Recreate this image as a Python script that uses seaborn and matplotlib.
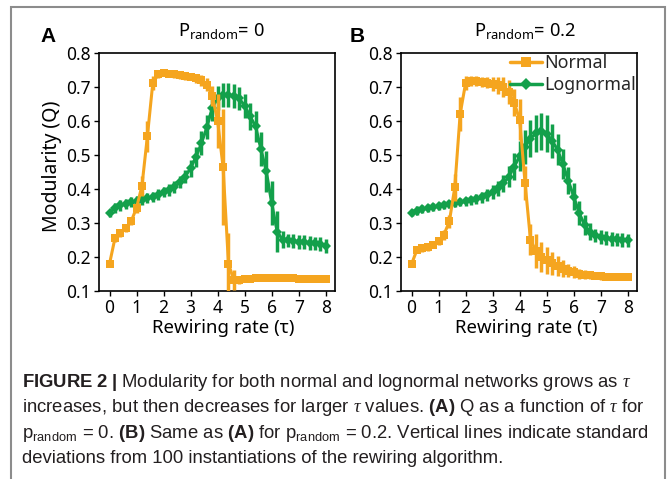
import numpy as np
import pandas as pd
import matplotlib
matplotlib.use("Agg")
import matplotlib.pyplot as plt
import seaborn as sns
from matplotlib.patches import Rectangle
from matplotlib.lines import Line2D
from matplotlib.ticker import FormatStrFormatter

# ---------------- data ----------------
tau = [0.0, 0.2, 0.4, 0.6, 0.8, 1.0, 1.2, 1.4, 1.6, 1.8,
       2.0, 2.2, 2.4, 2.6, 2.8, 3.0, 3.2, 3.4, 3.6, 3.8,
       4.0, 4.2, 4.4, 4.6, 4.8, 5.0, 5.2, 5.4, 5.6, 5.8,
       6.0, 6.2, 6.4, 6.6, 6.8, 7.0, 7.2, 7.4, 7.6, 7.8, 8.0]

# Panel A  (p_random = 0)
normal_a = [0.180, 0.255, 0.270, 0.285, 0.305, 0.345, 0.410, 0.555, 0.712, 0.738,
            0.742, 0.740, 0.738, 0.735, 0.732, 0.730, 0.726, 0.720, 0.708, 0.675,
            0.600, 0.465, 0.180, 0.132, 0.133, 0.135, 0.136, 0.137, 0.137, 0.138,
            0.138, 0.138, 0.137, 0.137, 0.137, 0.136, 0.136, 0.136, 0.136, 0.136, 0.136]
normal_a_sd = [0.005, 0.010, 0.010, 0.010, 0.012, 0.015, 0.030, 0.045, 0.020, 0.010,
               0.010, 0.010, 0.010, 0.010, 0.010, 0.010, 0.012, 0.015, 0.020, 0.030,
               0.080, 0.170, 0.090, 0.030, 0.012, 0.008, 0.008, 0.008, 0.008, 0.008,
               0.008, 0.008, 0.008, 0.008, 0.008, 0.008, 0.008, 0.008, 0.008, 0.008, 0.008]
lognormal_a = [0.329, 0.345, 0.352, 0.357, 0.361, 0.364, 0.368, 0.373, 0.378, 0.384,
               0.391, 0.398, 0.407, 0.420, 0.437, 0.462, 0.495, 0.535, 0.582, 0.640,
               0.668, 0.677, 0.677, 0.675, 0.667, 0.645, 0.615, 0.585, 0.518, 0.452,
               0.358, 0.275, 0.251, 0.249, 0.247, 0.245, 0.244, 0.242, 0.240, 0.238, 0.232]
lognormal_a_sd = [0.010, 0.015, 0.015, 0.015, 0.015, 0.015, 0.015, 0.015, 0.015, 0.015,
                  0.015, 0.018, 0.018, 0.018, 0.020, 0.025, 0.030, 0.035, 0.035, 0.040,
                  0.035, 0.035, 0.035, 0.035, 0.035, 0.035, 0.040, 0.045, 0.050, 0.060,
                  0.065, 0.060, 0.025, 0.020, 0.020, 0.020, 0.020, 0.020, 0.020, 0.020, 0.020]

# Panel B  (p_random = 0.2)
normal_b = [0.179, 0.221, 0.226, 0.229, 0.236, 0.246, 0.266, 0.305, 0.405, 0.622,
            0.712, 0.719, 0.718, 0.716, 0.714, 0.710, 0.706, 0.700, 0.686, 0.655,
            0.604, 0.418, 0.251, 0.218, 0.200, 0.190, 0.181, 0.174, 0.166, 0.160,
            0.155, 0.151, 0.148, 0.146, 0.144, 0.143, 0.142, 0.142, 0.141, 0.141, 0.141]
normal_b_sd = [0.008, 0.010, 0.010, 0.010, 0.010, 0.010, 0.015, 0.020, 0.040, 0.050,
               0.020, 0.015, 0.015, 0.015, 0.015, 0.020, 0.025, 0.030, 0.035, 0.040,
               0.060, 0.050, 0.045, 0.050, 0.045, 0.040, 0.035, 0.030, 0.025, 0.020,
               0.018, 0.015, 0.013, 0.010, 0.010, 0.010, 0.010, 0.010, 0.010, 0.010, 0.010]
lognormal_b = [0.331, 0.337, 0.341, 0.344, 0.347, 0.350, 0.353, 0.356, 0.359, 0.362,
               0.364, 0.367, 0.371, 0.376, 0.383, 0.392, 0.402, 0.417, 0.437, 0.466,
               0.497, 0.525, 0.549, 0.564, 0.570, 0.563, 0.543, 0.516, 0.474, 0.425,
               0.378, 0.330, 0.295, 0.274, 0.264, 0.259, 0.256, 0.253, 0.252, 0.251, 0.249]
lognormal_b_sd = [0.010, 0.012, 0.012, 0.012, 0.012, 0.012, 0.012, 0.012, 0.013, 0.013,
                  0.014, 0.014, 0.015, 0.016, 0.018, 0.020, 0.022, 0.025, 0.030, 0.040,
                  0.045, 0.050, 0.055, 0.055, 0.055, 0.055, 0.050, 0.045, 0.045, 0.040,
                  0.040, 0.035, 0.030, 0.025, 0.020, 0.020, 0.020, 0.020, 0.020, 0.020, 0.020]

series = ["Normal", "Lognormal"]
x_ticks = [0, 1, 2, 3, 4, 5, 6, 7, 8]
y_ticks = [0.1, 0.2, 0.3, 0.4, 0.5, 0.6, 0.7, 0.8]
titles = ["0", "0.2"]
panel_letters = ["A", "B"]

ORANGE = "#F5A51F"
GREEN = "#13A04B"

# ---------------- style ----------------
sns.set_theme(style="ticks")
plt.rcParams["font.family"] = ["Noto Sans", "DejaVu Sans"]
plt.rcParams["mathtext.fontset"] = "custom"
plt.rcParams["mathtext.rm"] = "Liberation Sans"
plt.rcParams["mathtext.bf"] = "Liberation Sans:bold"
plt.rcParams["mathtext.it"] = "Liberation Serif:italic"

W, H = 669, 479
fig = plt.figure(figsize=(W / 100, H / 100), dpi=100)
fig.patch.set_facecolor("white")

# frame around figure + caption
fig.add_artist(Rectangle((11 / W, -0.1), (665 - 11) / W, (1 - 7 / H) + 0.1,
                         transform=fig.transFigure, fill=False,
                         edgecolor="#8c8c8c", lw=1.5, clip_on=False))

ax_w = 236.3 / W
ax_h = 237.7 / H
ax_bottom = 1 - 291 / H
axA = fig.add_axes([98.7 / W, ax_bottom, ax_w, ax_h])
axB = fig.add_axes([400.7 / W, ax_bottom, ax_w, ax_h])

panels = [
    (axA, normal_a, normal_a_sd, lognormal_a, lognormal_a_sd),
    (axB, normal_b, normal_b_sd, lognormal_b, lognormal_b_sd),
]

for i, (ax, nm, nsd, lm, lsd) in enumerate(panels):
    df = pd.DataFrame({
        "tau": tau + tau,
        "Q": nm + lm,
        "dist": [series[0]] * len(tau) + [series[1]] * len(tau),
    })
    # error bars (standard deviations)
    ax.errorbar(tau, lm, yerr=lsd, fmt="none", ecolor=GREEN, elinewidth=2.5,
                capsize=0, zorder=2)
    ax.errorbar(tau, nm, yerr=nsd, fmt="none", ecolor=ORANGE, elinewidth=2.5,
                capsize=0, zorder=4)
    sns.lineplot(data=df[df["dist"] == "Lognormal"], x="tau", y="Q", ax=ax,
                 color=GREEN, marker="D", markersize=5, markeredgewidth=0,
                 lw=2.2, legend=False, zorder=3)
    sns.lineplot(data=df[df["dist"] == "Normal"], x="tau", y="Q", ax=ax,
                 color=ORANGE, marker="s", markersize=5.5, markeredgewidth=0,
                 lw=2.2, legend=False, zorder=5)

    ax.set_xlim(-0.4, 8.34)
    ax.set_ylim(0.1, 0.8)
    ax.set_xticks(x_ticks)
    ax.set_yticks(y_ticks)
    ax.yaxis.set_major_formatter(FormatStrFormatter("%.1f"))
    ax.set_xlabel("")
    ax.set_ylabel("")
    ax.tick_params(axis="both", direction="out", length=3.5, width=1.0,
                   labelsize=12.5, pad=2, colors="black")
    for sp in ax.spines.values():
        sp.set_visible(True)
        sp.set_linewidth(1.2)
        sp.set_color("black")
    ax.set_facecolor("white")

# legend in panel B
handles = [
    Line2D([], [], color=ORANGE, marker="s", markersize=6.5, lw=2.5, markeredgewidth=0),
    Line2D([], [], color=GREEN, marker="D", markersize=6, lw=2.5, markeredgewidth=0),
]
axB.legend(handles, series, loc="upper right", bbox_to_anchor=(0.995, 0.995),
           frameon=False, fontsize=12.8, handlelength=1.8, handletextpad=0.1,
           labelspacing=0.2, borderpad=0, borderaxespad=0)

# titles, panel letters, axis labels
title_x = [221, 525]
letter_x = [40, 350]
xlabel_x = [223.5, 526]
for i in range(2):
    fig.text(title_x[i] / W, 1 - 36 / H,
             r"$\mathregular{P_{random}}$= " + titles[i],
             ha="center", va="baseline", fontsize=13.2, color="black")
    fig.text(letter_x[i] / W, 1 - 42 / H, panel_letters[i], ha="left",
             va="baseline", fontsize=15, fontweight="bold", color="black",
             family=["Liberation Sans", "DejaVu Sans"])
    fig.text(xlabel_x[i] / W, 1 - 333 / H, "Rewiring rate (τ)", ha="center",
             va="baseline", fontsize=13.4, color="black")

fig.text(52 / W, 1 - 166 / H, "Modularity (Q)", rotation=90, ha="center",
         va="center", fontsize=14, color="black")

# caption
caption_lines = [
    r"$\mathbf{FIGURE\ 2\ |}$ Modularity for both normal and lognormal networks grows as $\tau$",
    r"increases, but then decreases for larger $\tau$ values. $\mathbf{(A)}$ Q as a function of $\tau$ for",
    r"$\mathregular{p_{random}}$ = 0. $\mathbf{(B)}$ Same as $\mathbf{(A)}$ for $\mathregular{p_{random}}$ = 0.2. Vertical lines indicate standard",
    "deviations from 100 instantiations of the rewiring algorithm.",
]
caption_y = [387, 412, 438, 463]
for line, yb in zip(caption_lines, caption_y):
    fig.text(22.5 / W, 1 - yb / H, line, ha="left", va="baseline",
             fontsize=13.3, color="#231F20",
             family=["Liberation Sans", "DejaVu Sans"])

fig.savefig("out.png", dpi=100, facecolor="white")
